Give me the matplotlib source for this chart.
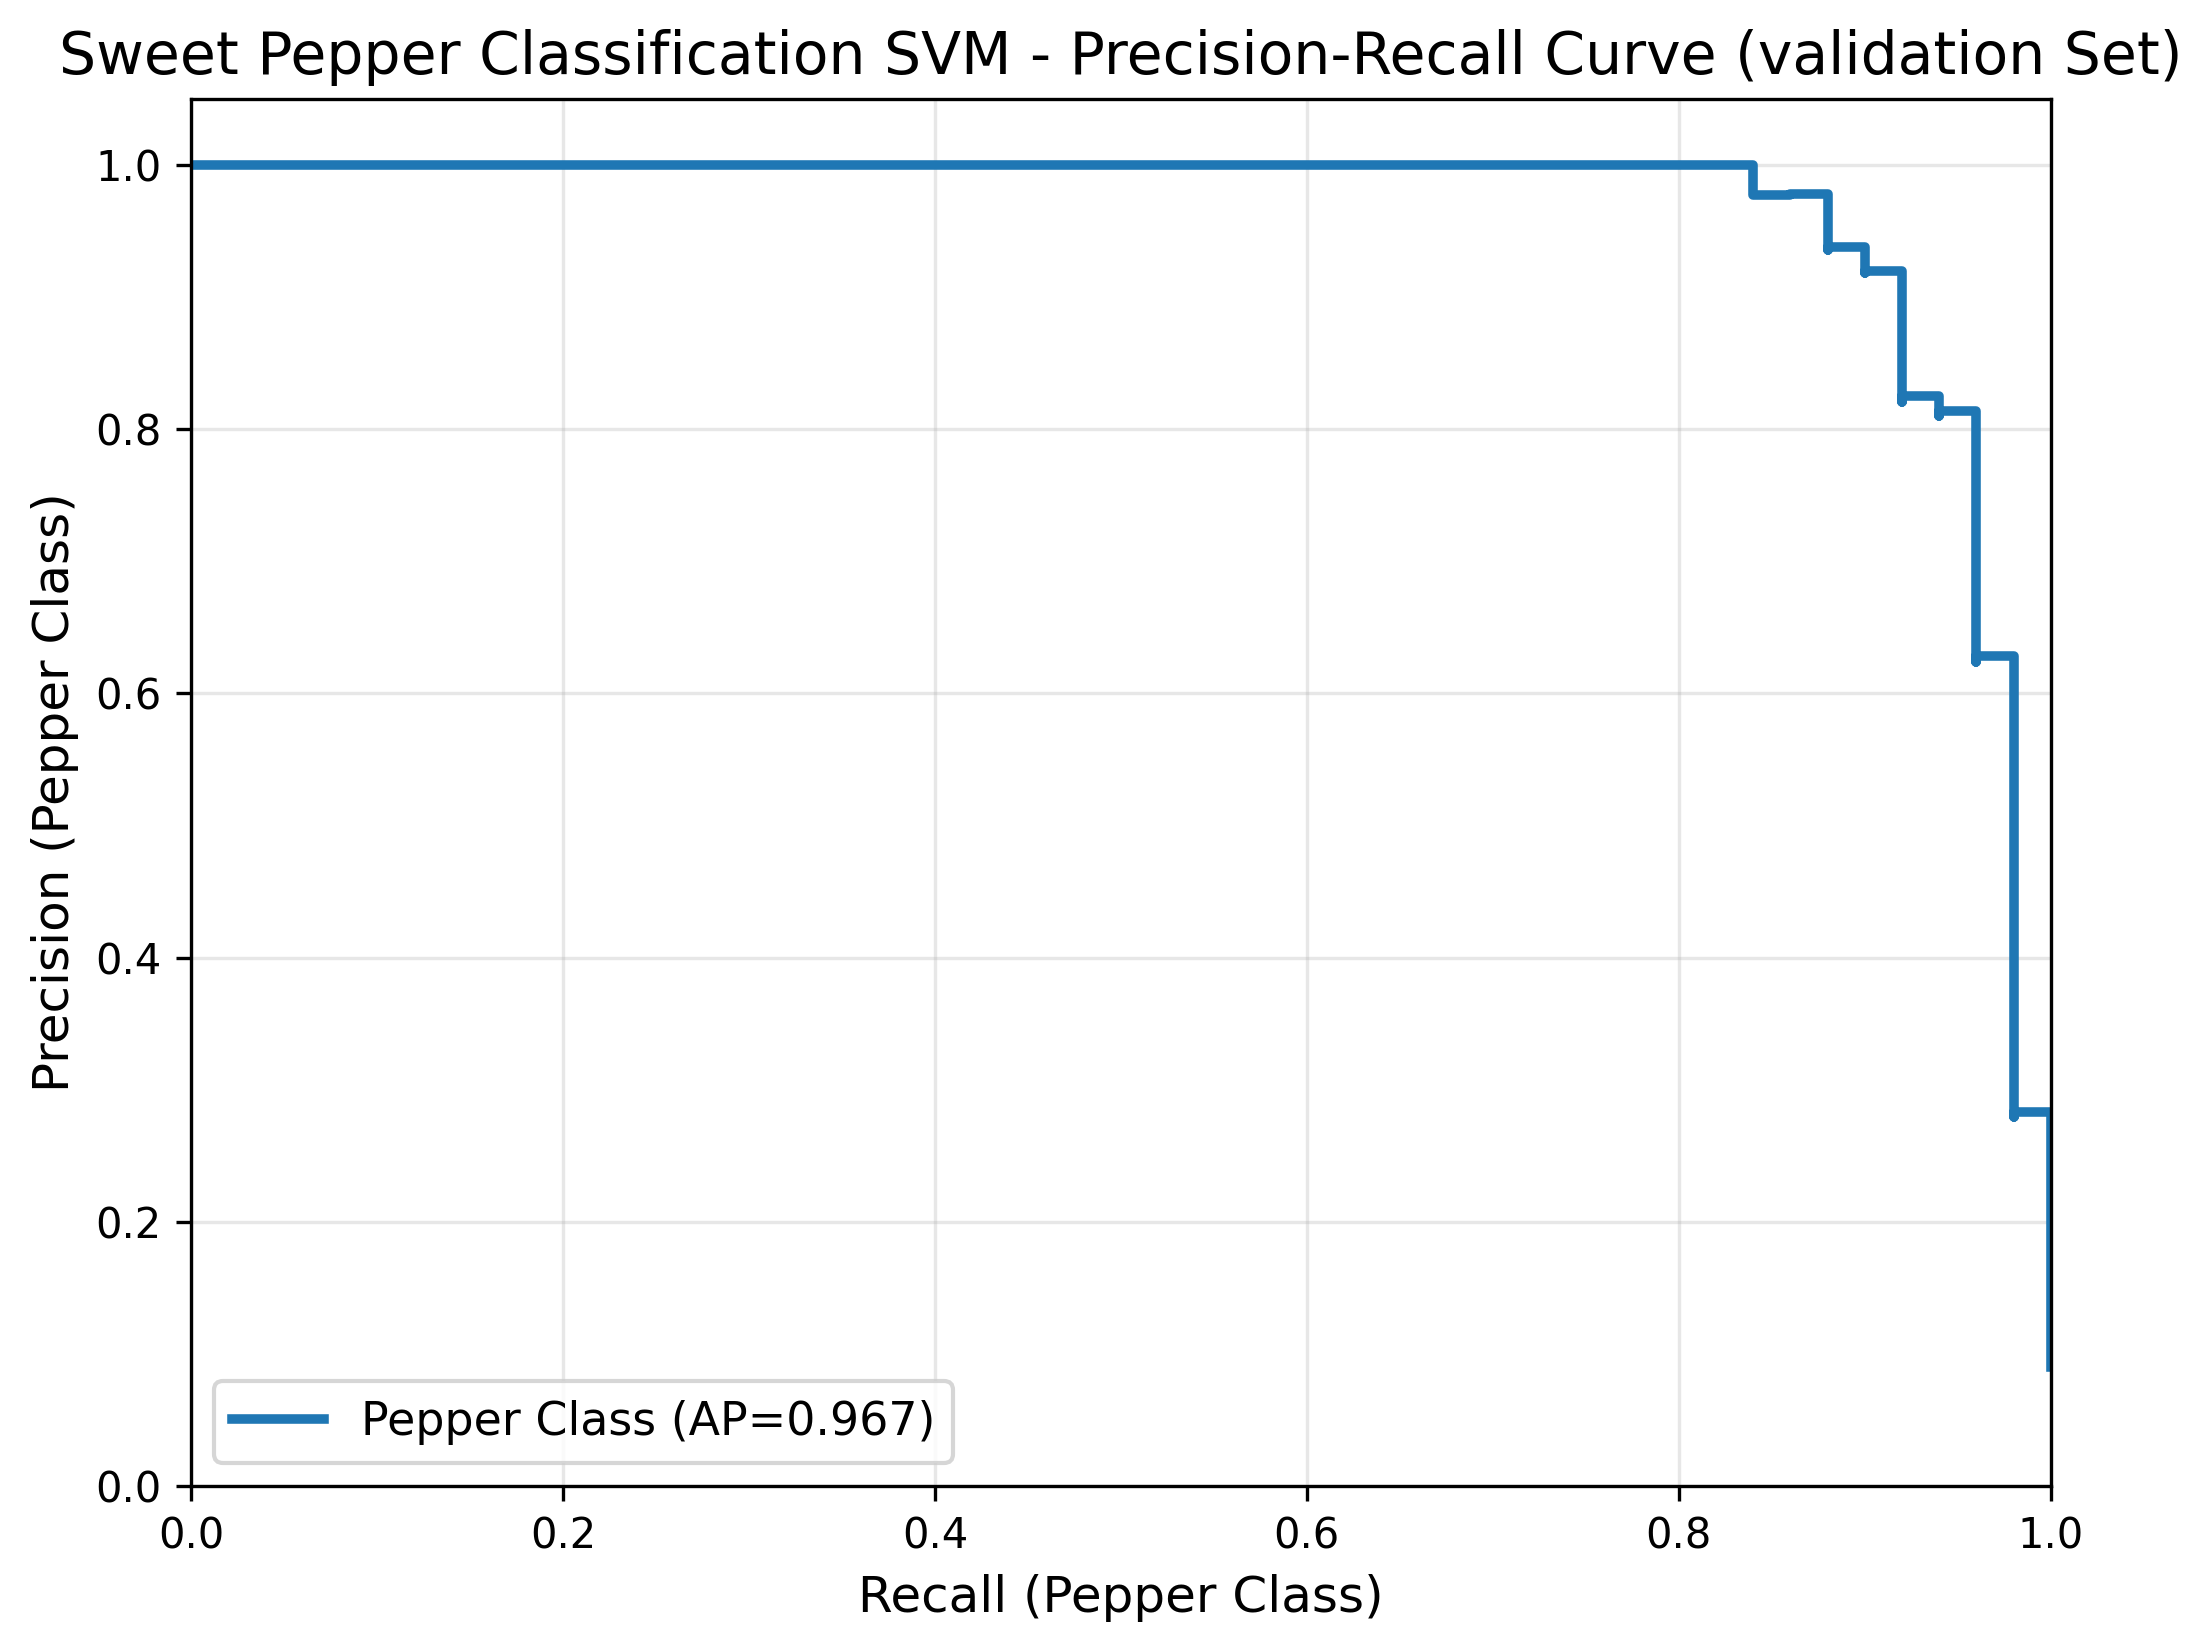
import numpy as np
import matplotlib
matplotlib.use("Agg")
import matplotlib.pyplot as plt

# PR curve points (sklearn order: recall decreasing, precision increasing)
recall = [1.00, 1.00, 0.98, 0.98, 0.96, 0.96, 0.94, 0.94, 0.92, 0.92,
          0.90, 0.90, 0.88, 0.88, 0.86, 0.84, 0.84, 0.00]
precision = [0.090, 0.283, 0.279, 0.628, 0.624, 0.814, 0.810, 0.825, 0.821, 0.920,
             0.918, 0.938, 0.936, 0.978, 0.977, 0.977, 1.000, 1.000]
ap = 0.967

fig, ax = plt.subplots(figsize=(2211 / 300, 1651 / 300), dpi=300)
ax.plot(recall, precision, drawstyle="steps-post", color="#1f77b4", linewidth=2.3,
        label=f"Pepper Class (AP={ap:.3f})")

ax.set_xlim(0, 1)
ax.set_ylim(0, 1.05)
ax.set_xlabel("Recall (Pepper Class)", fontsize=12)
ax.set_ylabel("Precision (Pepper Class)", fontsize=12)
ax.set_title("Sweet Pepper Classification SVM - Precision-Recall Curve (validation Set)", fontsize=14)
ax.grid(True, alpha=0.3)
ax.legend(loc="lower left", fontsize=11)

fig.subplots_adjust(left=0.0864, right=0.9275, top=0.940, bottom=0.100)
fig.savefig("out.png", dpi=300)
